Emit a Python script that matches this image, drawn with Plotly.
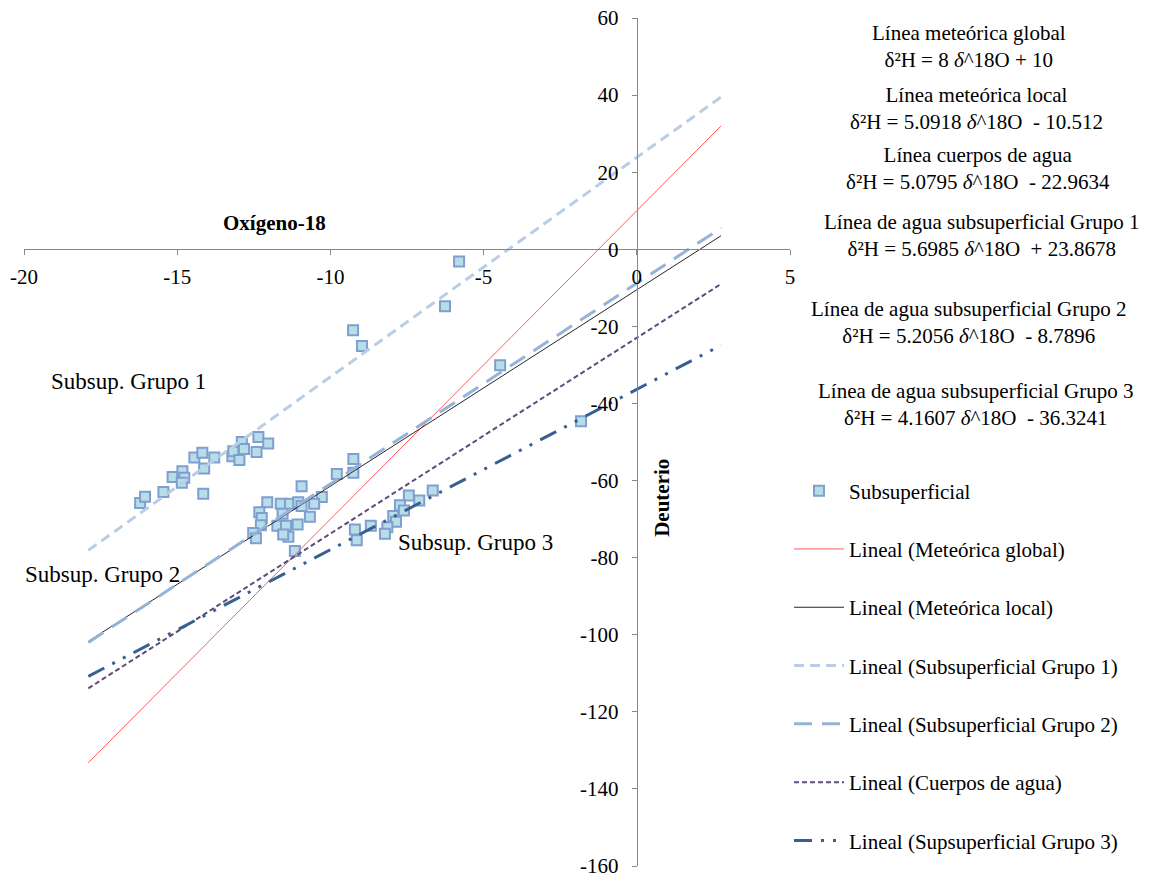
import plotly.graph_objects as go

# ---- Data: subsurface samples (delta 18O, delta 2H) ----
sub_x = [-16.21, -16.05, -15.45, -15.15, -14.83, -14.77, -14.85, -14.15, -14.44, -14.18,
         -13.79, -14.12, -13.20, -13.17, -12.89, -12.82, -12.97, -12.35, -12.03, -12.41,
         -5.80, -6.26, -9.26, -8.97, -4.46, -1.82,
         -9.79, -9.25, -9.25, -10.94, -10.28, -10.53, -12.06, -11.62, -11.32, -11.05,
         -10.94, -12.32, -11.56, -12.24, -10.67, -12.27, -11.73, -11.45, -11.07, -12.52,
         -12.43, -11.37, -11.54, -11.16,
         -6.66, -7.44, -7.10, -7.73, -7.60, -7.95, -7.86, -8.14, -8.68, -8.22, -9.20, -9.14]
sub_y = [-65.8, -64.2, -63.0, -59.1, -57.6, -59.3, -60.6, -63.4, -54.0, -52.8,
         -54.0, -56.9, -53.7, -52.4, -50.0, -51.8, -54.7, -48.7, -50.4, -52.6,
         -3.2, -14.8, -21.0, -25.1, -30.1, -44.6,
         -58.3, -58.0, -54.4, -61.5, -64.3, -66.0, -65.6, -66.0, -66.0, -65.6,
         -66.6, -68.2, -68.6, -69.7, -69.4, -71.6, -71.7, -71.7, -71.4, -73.6,
         -75.0, -74.6, -74.0, -78.3,
         -62.6, -63.9, -65.2, -66.4, -67.8, -69.2, -70.7, -72.1, -71.7, -73.8, -72.7, -75.5]

# ---- Trendlines (endpoints) ----
line_x = [-17.9, 2.75]
global_y = [-133.2, 32.0]
local_y = [-101.7, 3.5]
grupo1_y = [-78.1, 39.5]
grupo2_y = [-102.0, 5.5]
cuerpos_y = [-113.9, -9.0]
grupo3_y = [-110.8, -24.9]

x_ticks = [-20, -15, -10, -5, 0, 5]
y_ticks = [60, 40, 20, 0, -20, -40, -60, -80, -100, -120, -140, -160]

equations = [
    ("Línea meteórica global", "δ²H = 8 <i>δ</i>^18O + 10"),
    ("Línea meteórica local", "δ²H = 5.0918 <i>δ</i>^18O  - 10.512"),
    ("Línea cuerpos de agua", "δ²H = 5.0795 <i>δ</i>^18O  - 22.9634"),
    ("Línea de agua subsuperficial Grupo 1", "δ²H = 5.6985 <i>δ</i>^18O  + 23.8678"),
    ("Línea de agua subsuperficial Grupo 2", "δ²H = 5.2056 <i>δ</i>^18O  - 8.7896"),
    ("Línea de agua subsuperficial Grupo 3", "δ²H = 4.1607 <i>δ</i>^18O  - 36.3241"),
]

FONT = "Liberation Serif"
W, H = 1151, 879
ML, MR, MT, MB = 24, 361, 18, 13
PW = W - ML - MR
PH = H - MT - MB
PB = H - MB


def px2paper(px, py):
    return (px - ML) / PW, (PB - py) / PH


fig = go.Figure()

fig.add_trace(go.Scatter(
    x=sub_x, y=sub_y, mode="markers", name="Subsuperficial", legendgroup="a",
    marker=dict(symbol="square", size=10, color="#b7dde8",
                line=dict(color="#7f9fd0", width=2))))

lines = [
    ("Lineal (Meteórica global)", global_y, "#ff5b5b", 1, "solid"),
    ("Lineal (Meteórica local)", local_y, "#262626", 1, "solid"),
    ("Lineal (Subsuperficial Grupo 1)", grupo1_y, "#b9cde5", 3, "10px,6px"),
    ("Lineal (Subsuperficial Grupo 2)", grupo2_y, "#95b3d7", 3, "18px,10px"),
    ("Lineal (Cuerpos de agua)", cuerpos_y, "#604a7b", 2, "5px,3px"),
    ("Lineal (Supsuperficial Grupo 3)", grupo3_y, "#376092", 3, "18px,9px,3px,9px,3px,9px"),
]
for i, (nm, ys, col, w, dash) in enumerate(lines):
    fig.add_trace(go.Scatter(x=line_x, y=ys, mode="lines", name=nm,
                             legendgroup="g%d" % i,
                             line=dict(color=col, width=w, dash=dash)))

annotations = []
eq_pos = [(969, 46), (976, 108), (978, 168), (981, 236), (968, 322), (975, 404)]
for (t1, t2), (px, py) in zip(equations, eq_pos):
    ax, ay = px2paper(px, py)
    annotations.append(dict(
        text=t1 + "<br>" + t2, xref="paper", yref="paper",
        x=ax, y=ay, xanchor="center", yanchor="middle",
        showarrow=False, align="center", font=dict(family=FONT, size=21, color="black")))

annotations += [
    dict(text="<b>Oxígeno-18</b>", x=-11.81, y=6.7, xref="x", yref="y", showarrow=False,
         font=dict(family=FONT, size=21, color="black")),
    dict(text="<b>Deuterio</b>", x=0.82, y=-64.5, xref="x", yref="y", showarrow=False,
         textangle=-90, font=dict(family=FONT, size=21, color="black")),
    dict(text="Subsup. Grupo 1", x=-16.6, y=-34.2, xref="x", yref="y", showarrow=False,
         font=dict(family=FONT, size=23, color="black")),
    dict(text="Subsup. Grupo 2", x=-17.45, y=-84.4, xref="x", yref="y", showarrow=False,
         font=dict(family=FONT, size=23, color="black")),
    dict(text="Subsup. Grupo 3", x=-5.28, y=-76.1, xref="x", yref="y", showarrow=False,
         font=dict(family=FONT, size=23, color="black")),
]

lx, ly = px2paper(789, 470.5)
fig.update_layout(
    width=W, height=H,
    margin=dict(l=ML, r=MR, t=MT, b=MB, autoexpand=False),
    paper_bgcolor="white", plot_bgcolor="white",
    font=dict(family=FONT, size=21, color="black"),
    showlegend=True,
    legend=dict(x=lx, y=ly, xanchor="left", yanchor="top",
                traceorder="grouped", tracegroupgap=28, itemwidth=50,
                font=dict(family=FONT, size=21, color="black"),
                bgcolor="rgba(0,0,0,0)"),
    xaxis=dict(range=[-20, 5], tickvals=x_ticks, ticktext=[str(v) for v in x_ticks],
               showgrid=False, zeroline=False, showline=True, linecolor="#888888",
               linewidth=1, ticks="outside", ticklen=5, tickcolor="#888888",
               anchor="free", position=160 / 220, side="bottom", automargin=False,
               ticklabelstandoff=4, ticklabeloverflow="allow",
               tickfont=dict(family=FONT, size=21, color="black")),
    yaxis=dict(range=[-160, 60], tickvals=y_ticks, ticktext=[str(v) for v in y_ticks],
               showgrid=False, zeroline=False, showline=True, linecolor="#888888",
               linewidth=1, ticks="outside", ticklen=5, tickcolor="#888888",
               anchor="free", position=0.8, side="left", automargin=False,
               ticklabelstandoff=9, ticklabeloverflow="allow",
               tickfont=dict(family=FONT, size=21, color="black")),
    annotations=annotations,
)

fig.write_html("out.html")
